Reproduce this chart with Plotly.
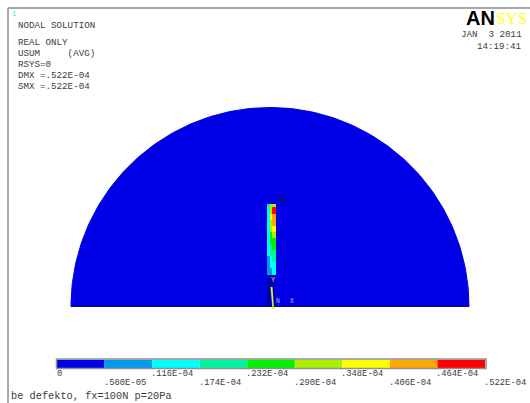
import numpy as np
import plotly.graph_objects as go

# contour levels and band colours
level_labels = ["0", ".580E-05", ".116E-04", ".174E-04", ".232E-04", ".290E-04", ".348E-04", ".406E-04", ".464E-04", ".522E-04"]
level_values = [0, .58e-5, .116e-4, .174e-4, .232e-4, .29e-4, .348e-4, .406e-4, .464e-4, .522e-4]
band_colors = ["#0000e6", "#0099f0", "#00ffff", "#00f5a0", "#00f000", "#a8f000", "#ffff00", "#ffa800", "#ff0000"]

# crack strip: band index along the strip, top to bottom
strip_y = [204, 207, 214, 220, 226, 232, 238, 244, 250, 256, 262, 268, 275]
strip_left = [3, 2, 2, 2, 2, 2, 2, 2, 2, 1, 1, 1, 1]
strip_mid = [5, 5, 6, 5, 5, 4, 4, 3, 3, 2, 2, 1, 1]
strip_right = [5, 8, 7, 7, 6, 5, 4, 4, 3, 3, 2, 2, 1]

header_lines = ["NODAL SOLUTION", "REAL ONLY", "USUM     (AVG)", "RSYS=0", "DMX =.522E-04", "SMX =.522E-04"]
header_y = [25, 42, 53, 64, 75, 86]

TXT = "#3c3c3c"
FONT = "Liberation Mono"

fig = go.Figure()

# half-disc model
theta = np.linspace(0, np.pi, 181)
R = 199
fig.add_trace(go.Scatter(x=270 + R * np.cos(theta), y=306.5 - R * np.sin(theta), mode="lines",
                         fill="toself", fillcolor="#0000e6", line=dict(color="#0000e6", width=1),
                         hoverinfo="skip", showlegend=False))

# base line
fig.add_trace(go.Scatter(x=[71, 469], y=[306.5, 306.5], mode="lines", line=dict(color="#101050", width=1.2),
                         hoverinfo="skip", showlegend=False))

# crack strip, on an overlay axis so it sits above the disc
scale = []
n = len(band_colors)
for i, c in enumerate(band_colors):
    scale += [[i / n, c], [(i + 1) / n, c]]
z = [[strip_left[i], strip_mid[i], strip_right[i]] for i in range(len(strip_y) - 1)]
fig.add_trace(go.Heatmap(x=[267, 270, 272, 276], y=strip_y, z=z, zmin=0, zmax=n - 1 + 0.001,
                         colorscale=scale, showscale=False, hoverinfo="skip", xaxis="x3", yaxis="y3"))

# lower ligament
fig.add_trace(go.Scatter(x=[267, 275, 275, 267, 267], y=[275, 275, 306, 306, 275], mode="lines", fill="toself",
                         fillcolor="#0000a8", line=dict(width=0), hoverinfo="skip", showlegend=False,
                         xaxis="x3", yaxis="y3"))
fig.add_trace(go.Scatter(x=[270.5, 272.5, 274, 272.5, 270.5], y=[287, 287, 309, 309, 287], mode="lines", fill="toself",
                         fillcolor="#e4ee30", line=dict(width=0), hoverinfo="skip", showlegend=False,
                         xaxis="x3", yaxis="y3"))

# contour legend as stacked bars on its own axis
for i, c in enumerate(band_colors):
    fig.add_trace(go.Bar(x=[level_values[i + 1] - level_values[i]], y=[0], base=level_values[i], orientation="h",
                         marker=dict(color=c, line=dict(width=0)), width=1, xaxis="x2", yaxis="y2",
                         hoverinfo="skip", showlegend=False))

fig.update_layout(
    width=530, height=403, margin=dict(l=0, r=0, t=0, b=0),
    paper_bgcolor="white", plot_bgcolor="white", barmode="overlay",
    xaxis=dict(range=[0, 530], domain=[0, 1], visible=False, fixedrange=True),
    yaxis=dict(range=[403, 0], domain=[0, 1], visible=False, fixedrange=True),
    xaxis2=dict(range=[0, .522e-4], domain=[57 / 530, 485 / 530], anchor="y2", visible=False, fixedrange=True),
    yaxis2=dict(range=[-.5, .5], domain=[1 - 368 / 403, 1 - 359.5 / 403], anchor="x2", visible=False, fixedrange=True),
    xaxis3=dict(range=[0, 530], overlaying="x", visible=False, fixedrange=True),
    yaxis3=dict(range=[403, 0], overlaying="y", visible=False, fixedrange=True),
)

# frames
line_col = "#a8a8a8"
fig.add_shape(type="line", x0=8, x1=8, y0=8, y1=403, line=dict(color=line_col, width=2))
fig.add_shape(type="line", x0=8, x1=530, y0=8, y1=8, line=dict(color=line_col, width=2))
fig.add_shape(type="rect", x0=56.5, x1=486, y0=359, y1=368.5, line=dict(color="#909090", width=1.5), fillcolor="rgba(0,0,0,0)")

def txt(x, y, s, size=9.2, color=TXT, anchor="left", family=FONT, **kw):
    fig.add_annotation(x=x, y=y, text=s, showarrow=False, xanchor=anchor, yanchor="middle", xref="x", yref="y",
                       font=dict(family=family, size=size, color=color), **kw)

for s, y in zip(header_lines, header_y):
    txt(16, y, s.replace(" ", "\u00a0"))

txt(9.5, 14, "1", size=7, color="#30e8e8")
txt(524, 34, "JAN\u00a0\u00a03\u00a02011", anchor="right")
txt(524, 46, "14:19:41", anchor="right")

# logo
txt(464, 18, "<b>AN</b>", size=20, color="black", family="Liberation Sans")
txt(494, 18, "SYS", size=17, color="#ffff20", family="Liberation Serif")

# model labels
txt(276, 200.5, "MX", size=7, color="#101040")
txt(273, 280, "Y", size=7, color="#c0d8ff", anchor="center")
txt(278, 301, "N", size=6.5, color="#b0b0d8", anchor="center")
txt(292, 301, "X", size=6.5, color="#b0b0d8", anchor="center")

# level labels, staggered in two rows
for i, (v, s) in enumerate(zip(level_values, level_labels)):
    fig.add_annotation(x=v, y=0, xref="x2", yref="y2", text=s, showarrow=False, xanchor="left",
                       yanchor="middle", yshift=-(374 - 363.7) if i % 2 == 0 else -(383 - 363.7),
                       xshift=-2 if i == 0 else -3,
                       font=dict(family=FONT, size=8.8, color=TXT))

txt(9, 396, "be\u00a0defekto,\u00a0fx=100N\u00a0p=20Pa", size=10.3)

fig.write_html("out.html", config={"displayModeBar": False},
               post_script="document.body.style.margin='0';document.documentElement.style.overflow='hidden';")
